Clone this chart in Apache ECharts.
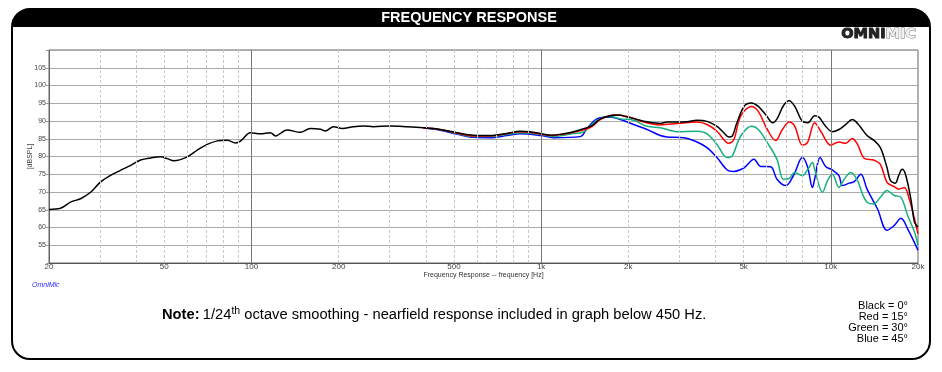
<!DOCTYPE html>
<html>
<head>
<meta charset="utf-8">
<script src="https://cdn.jsdelivr.net/npm/echarts@6/dist/echarts.min.js"></script>
<style>html,body{margin:0;padding:0;background:#fff}#c{width:942px;height:372px}</style>
</head>
<body>
<div id="c"></div>
<script>
// ---- data ----
const xTickValues = [20, 50, 100, 200, 500, 1000, 2000, 5000, 10000, 20000];
const xTickLabels = ['20', '50', '100', '200', '500', '1k', '2k', '5k', '10k', '20k'];
const majorGridX = [100, 1000, 10000];
const minorGridX = [30, 40, 50, 60, 70, 80, 90, 200, 300, 400, 500, 600, 700, 800, 900,
  2000, 3000, 4000, 5000, 6000, 7000, 8000, 9000];
const yHiddenLabels = [50, 110];

const blackFreq = [20, 21.9, 23.8, 25.7, 27.9, 30.1, 32.6, 35.3, 38.3, 41.4, 44.9, 48.6, 51.2, 54, 60, 65, 70.3, 76.2, 82.5, 88.1, 91.6, 99.2,
  107.4, 116.3, 121, 132.7, 147.5, 159.7, 172.9, 179.8, 192, 205.6, 225, 243, 263.6, 301, 344, 392, 448, 512, 584, 667, 762, 847, 917,
  1000, 1088, 1195, 1294, 1401, 1497, 1600, 1733, 1851, 1979, 2115, 2261, 2447, 2580, 2720, 2945, 3188, 3452, 3738, 4046, 4273, 4446, 4562,
  4740, 5036, 5318, 5620, 5995, 6293, 6521, 6860, 7185, 7510, 7974, 8341, 8793, 9100, 9598, 10120, 10670, 11250, 11860, 12180, 12660,
  13340, 14060, 14830, 15630, 16050, 16700, 17150, 17630, 18100, 18900, 19450, 20000];
const blackDb = [65.1, 65.4, 67.2, 68.1, 70.0, 72.8, 74.7, 76.1, 77.5, 79.0, 79.6, 79.9, 79.4, 78.8, 79.9, 81.8, 83.4, 84.4, 84.6, 83.8, 84.3, 86.7,
  86.4, 86.7, 85.8, 87.5, 86.8, 87.9, 87.7, 87.2, 88.4, 87.9, 88.4, 88.6, 88.4, 88.6, 88.4, 88.1, 87.6, 86.7, 86.0, 85.9, 86.5, 87.1, 87.0,
  86.4, 86.0, 86.4, 87.0, 87.8, 88.7, 90.6, 91.5, 91.7, 91.1, 90.6, 89.9, 89.5, 89.3, 89.7, 89.7, 89.8, 90.2, 89.9, 88.5, 86.7, 85.5, 85.7,
  89.5, 94.3, 95.1, 94.1, 91.5, 89.5, 90.6, 94.3, 95.7, 94.1, 89.9, 89.5, 91.5, 91.1, 88.5, 87.0, 87.6, 89.0, 90.4, 89.9, 88.3,
  85.9, 84.6, 82.5, 76.9, 73.3, 72.5, 74.6, 76.4, 75.0, 68.0, 61.5, 60.1];

const redFreq = [392, 448, 512, 584, 667, 762, 847, 1000, 1088, 1195, 1294, 1401, 1497, 1600, 1780, 1979, 2261, 2580, 2945, 3452, 3738,
  4046, 4446, 4629, 4883, 5318, 5620, 5995, 6452, 6804, 7185, 7510, 7974, 8306, 8793, 9236, 10000, 10670, 11250, 11860, 12370, 13040,
  14060, 14830, 15630, 16560, 17150, 17940, 18660, 19450, 20000];
const redDb = [88.1, 87.6, 86.6, 85.8, 85.8, 86.4, 87.0, 86.3, 85.9, 86.3, 86.8, 87.5, 88.4, 90.4, 91.7, 91.3, 89.7, 88.9, 89.3, 89.7, 89.0,
  87.1, 83.7, 84.8, 91.3, 94.1, 92.7, 88.1, 84.5, 87.6, 89.7, 88.5, 83.2, 83.9, 89.5, 87.1, 83.2, 84.1, 83.7, 85.1, 83.4, 79.5,
  79.0, 77.8, 72.7, 71.5, 70.8, 71.3, 68.0, 62.4, 58.2];

const greenFreq = [392, 448, 512, 584, 667, 762, 846, 1000, 1103, 1294, 1401, 1497, 1622, 1733, 1877, 2087, 2321, 2580, 2945, 3452, 3738,
  4046, 4389, 4562, 4883, 5318, 5620, 6038, 6521, 6860, 7175, 7510, 7980, 8306, 8642, 8793, 9358, 9739, 10120, 10670, 11120, 11730,
  12370, 12870, 13340, 14060, 14830, 15630, 16560, 17470, 18420, 19450, 20000];
const greenDb = [88.1, 87.5, 86.5, 85.6, 85.6, 86.2, 86.7, 86.2, 85.6, 86.5, 86.9, 89.0, 90.9, 91.3, 90.6, 90.2, 88.5, 88.1, 87.0, 87.1, 86.4,
  83.4, 79.7, 80.1, 85.7, 88.5, 87.6, 83.9, 79.2, 73.6, 73.8, 75.5, 74.6, 76.2, 78.3, 76.4, 69.9, 73.2, 75.0, 71.3, 73.6, 75.5,
  73.2, 69.4, 67.1, 66.6, 68.5, 70.4, 69.0, 68.5, 63.4, 58.7, 55.0];

const blueFreq = [392, 448, 512, 584, 667, 762, 846, 1000, 1103, 1365, 1439, 1558, 1733, 1877, 2087, 2321, 2580, 2720, 3108, 3452, 3738,
  4046, 4389, 4629, 5036, 5428, 5725, 6198, 6521, 6986, 7467, 7974, 8306, 8642, 8793, 9186, 9598, 10120, 10670, 10970, 11570, 12040,
  12700, 13340, 14500, 15630, 16560, 17470, 18420, 20000];
const blueDb = [88.0, 87.4, 86.3, 85.4, 85.3, 85.9, 86.4, 85.9, 85.3, 85.6, 87.8, 90.6, 91.1, 90.4, 89.0, 87.6, 85.9, 85.5, 85.3, 84.1, 82.5,
  79.7, 76.2, 75.8, 76.9, 79.2, 77.2, 77.1, 73.6, 71.8, 75.0, 79.7, 77.2, 71.3, 73.6, 79.7, 77.2, 76.2, 74.6, 71.8, 72.5, 72.9,
  75.0, 70.8, 65.2, 59.2, 60.6, 62.6, 59.6, 53.6];

const legendLines = ['Black = 0°', 'Red = 15°', 'Green = 30°', 'Blue = 45°'];

// ---- chart ----
const zip = (f, d) => f.map((v, i) => [v, d[i]]);
const chart = echarts.init(document.getElementById('c'), null, { renderer: 'canvas' });

function curve(name, color, f, d) {
  return {
    name, type: 'line', data: zip(f, d), showSymbol: false, smooth: 0.35,
    lineStyle: { color, width: 1.5 }, itemStyle: { color }, silent: true, z: 3
  };
}

const gridMark = (vals, style) => vals.map(v => ({ xAxis: v, lineStyle: style }));

chart.setOption({
  animation: false,
  backgroundColor: '#fff',
  grid: { left: 49, right: 24, top: 50, bottom: 109, show: true, borderColor: '#666', borderWidth: 1, backgroundColor: 'transparent' },
  xAxis: {
    type: 'log', logBase: 10, min: 20, max: 20000,
    name: 'Frequency Response -- frequency [Hz]', nameLocation: 'middle', nameGap: 9, nameMoveOverlap: false,
    nameTextStyle: { fontSize: 7, color: '#333', fontFamily: 'Arial' },
    axisLine: { show: true, lineStyle: { color: '#555', width: 1 } },
    axisTick: { show: false },
    splitLine: { show: false },
    axisLabel: {
      customValues: xTickValues, showMinLabel: true, showMaxLabel: true,
      fontSize: 8, color: '#444', margin: 0, fontFamily: 'Arial',
      formatter: v => { const i = xTickValues.indexOf(Math.round(v)); return i >= 0 ? xTickLabels[i] : ''; }
    }
  },
  yAxis: {
    type: 'value', min: 50, max: 110, interval: 5,
    name: '[dBSPL]', nameLocation: 'middle', nameGap: 15, nameRotate: 90, nameMoveOverlap: false,
    nameTextStyle: { fontSize: 7, color: '#444', fontFamily: 'Arial' },
    axisLine: { show: true, lineStyle: { color: '#666' } },
    axisTick: { show: true, length: 3, lineStyle: { color: '#999' } },
    splitLine: { show: true, lineStyle: { color: '#aaa', width: 1 } },
    axisLabel: {
      fontSize: 7, color: '#444', margin: 3, fontFamily: 'Arial',
      formatter: v => yHiddenLabels.includes(v) ? '' : String(v)
    }
  },
  series: [
    {
      name: 'grid', type: 'line', data: [[20, 50]], showSymbol: false, silent: true, z: 1,
      lineStyle: { opacity: 0 },
      markLine: {
        silent: true, symbol: ['none', 'none'], label: { show: false }, animation: false,
        data: gridMark(minorGridX, { color: '#c8c8c8', type: [3, 2], width: 1 })
          .concat(gridMark(majorGridX, { color: '#777', type: 'solid', width: 1 }))
      }
    },
    curve('Blue', '#0000ff', blueFreq, blueDb),
    curve('Green', '#16b080', greenFreq, greenDb),
    curve('Red', '#ff0000', redFreq, redDb),
    curve('Black', '#000000', blackFreq, blackDb)
  ],
  graphic: [
    { type: 'rect', shape: { x: 12, y: 9, width: 918, height: 18, r: [18, 18, 0, 0] }, style: { fill: '#000' }, z: 10 },
    { type: 'rect', shape: { x: 12, y: 9, width: 918, height: 350, r: 18 }, style: { fill: 'none', stroke: '#000', lineWidth: 2 }, z: 10 },
    { type: 'text', x: 469, y: 18, z: 11, style: { text: 'FREQUENCY RESPONSE', fill: '#fff', font: 'bold 14.5px Arial', textAlign: 'center', textVerticalAlign: 'middle' } },
    { type: 'text', x: 916, y: 34, z: 11, style: {
        text: '{a|OMNI}{b|MIC}', textAlign: 'right', textVerticalAlign: 'middle',
        rich: {
          a: { fontSize: 14.5, fontWeight: 'bold', fontFamily: 'DejaVu Sans', fill: '#222', stroke: '#222', lineWidth: 1 },
          b: { fontSize: 14.5, fontWeight: 'bold', fontFamily: 'DejaVu Sans', fill: '#f2f2f2', stroke: '#777', lineWidth: 1 }
        } } },
    { type: 'text', x: 32, y: 285, z: 11, style: { text: 'OmniMic', fill: '#2a2aff', font: 'italic 7px Arial', textAlign: 'left', textVerticalAlign: 'middle' } },
    { type: 'text', x: 162, y: 315, z: 11, style: {
        text: '{b|Note:} {n|1/24}{s|th}{n| octave smoothing - nearfield response included in graph below 450 Hz.}',
        textAlign: 'left', textVerticalAlign: 'middle',
        rich: {
          b: { fontSize: 14.7, fontWeight: 'bold', fontFamily: 'Arial', fill: '#000', lineHeight: 18 },
          n: { fontSize: 14.7, fontFamily: 'Arial', fill: '#000', lineHeight: 18 },
          s: { fontSize: 10.5, fontFamily: 'Arial', fill: '#000', verticalAlign: 'top', lineHeight: 18 }
        } } },
    { type: 'text', x: 908, y: 301, z: 11, style: {
        text: legendLines.join('\n'), fill: '#000', font: '11px Arial', lineHeight: 10.8,
        textAlign: 'right', textVerticalAlign: 'top' } }
  ]
});
</script>
</body>
</html>
